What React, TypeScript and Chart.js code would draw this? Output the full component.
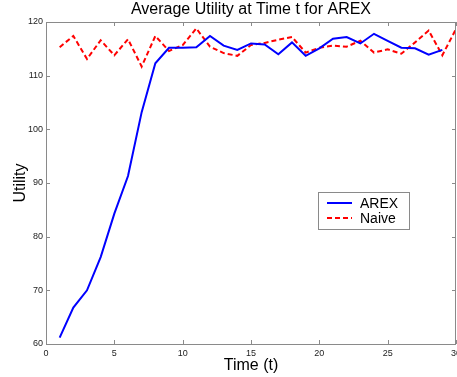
import React, { useEffect, useRef } from "react";
import { Chart, registerables } from "chart.js";

Chart.register(...registerables);

const timeSteps = [1, 2, 3, 4, 5, 6, 7, 8, 9, 10, 11, 12, 13, 14, 15, 16, 17, 18, 19, 20, 21, 22, 23, 24, 25, 26, 27, 28, 29, 30];
const arexValues = [61.2, 66.8, 70.0, 76.2, 84.3, 91.3, 103.2, 112.3, 115.2, 115.2, 115.3, 117.4, 115.6, 114.8, 116.0, 115.8, 114.0, 116.2, 113.7, 115.1, 116.9, 117.2, 116.0, 117.8, 116.5, 115.2, 115.1, 113.9, 114.8, null];
const naiveValues = [115.3, 117.4, 113.1, 116.6, 113.8, 116.8, 111.7, 117.4, 114.6, 115.7, 118.8, 115.4, 114.2, 113.7, 115.7, 116.1, 116.7, 117.2, 114.3, 115.2, 115.6, 115.4, 116.5, 114.3, 114.9, 114.1, 116.2, 118.4, 113.8, 118.7];
const xTicks = [0, 5, 10, 15, 20, 25, 30];
const yTicks = [60, 70, 80, 90, 100, 110, 120];
const titleText = "Average Utility at Time t for AREX";
const seriesLabels = ["AREX", "Naive"];

const FONT = "'Liberation Sans', Arial, Helvetica, sans-serif";

const framePlugin = {
  id: "matlabFrame",
  afterDatasetsDraw(chart: any) {
    const { ctx, chartArea: a, scales } = chart;
    ctx.save();
    ctx.strokeStyle = "#8a8a8a";
    ctx.lineWidth = 1;
    ctx.strokeRect(Math.round(a.left) + 0.5, Math.round(a.top) + 0.5, Math.round(a.right - a.left) - 1, Math.round(a.bottom - a.top) - 0);
    const tl = 4;
    ctx.beginPath();
    xTicks.forEach((v) => {
      const x = Math.round(scales.x.getPixelForValue(v)) + 0.5;
      ctx.moveTo(x, a.bottom);
      ctx.lineTo(x, a.bottom - tl);
      ctx.moveTo(x, a.top);
      ctx.lineTo(x, a.top + tl);
    });
    yTicks.forEach((v) => {
      const y = Math.round(scales.y.getPixelForValue(v)) + 0.5;
      ctx.moveTo(a.left, y);
      ctx.lineTo(a.left + tl, y);
      ctx.moveTo(a.right, y);
      ctx.lineTo(a.right - tl, y);
    });
    ctx.stroke();

    // title
    ctx.fillStyle = "#000";
    ctx.font = `16px ${FONT}`;
    ctx.textAlign = "center";
    ctx.textBaseline = "middle";
    ctx.fillText(titleText, (a.left + a.right) / 2, 10);

    // legend
    const lx = 318, ly = 192, lw = 91, lh = 37;
    ctx.fillStyle = "#fff";
    ctx.fillRect(lx, ly, lw, lh);
    ctx.strokeStyle = "#8a8a8a";
    ctx.strokeRect(lx + 0.5, ly + 0.5, lw, lh);
    ctx.font = `14px ${FONT}`;
    ctx.textAlign = "left";
    chart.data.datasets.forEach((ds: any, i: number) => {
      const yy = ly + 11 + i * 15;
      ctx.strokeStyle = ds.borderColor;
      ctx.lineWidth = 2;
      ctx.setLineDash(ds.borderDash || []);
      ctx.beginPath();
      ctx.moveTo(lx + 9, yy);
      ctx.lineTo(lx + 34, yy);
      ctx.stroke();
      ctx.setLineDash([]);
      ctx.fillStyle = "#000";
      ctx.fillText(ds.label, lx + 42, yy + 1);
    });
    ctx.restore();
  },
};

export default function App() {
  const ref = useRef<HTMLCanvasElement | null>(null);
  useEffect(() => {
    if (!ref.current) return;
    const chart = new Chart(ref.current, {
      type: "line",
      data: {
        labels: timeSteps,
        datasets: [
          {
            label: seriesLabels[0],
            data: timeSteps.map((t, i) => ({ x: t, y: arexValues[i] })),
            borderColor: "#0000ff",
            borderWidth: 2,
            pointRadius: 0,
            tension: 0,
            spanGaps: false,
          },
          {
            label: seriesLabels[1],
            data: timeSteps.map((t, i) => ({ x: t, y: naiveValues[i] })),
            borderColor: "#ff0000",
            borderWidth: 2,
            borderDash: [5, 3],
            pointRadius: 0,
            tension: 0,
          },
        ],
      },
      options: {
        animation: false,
        responsive: false,
        maintainAspectRatio: false,
        layout: { padding: { left: 0, right: 1, top: 22, bottom: 0 } },
        plugins: { legend: { display: false }, tooltip: { enabled: false }, title: { display: false } },
        scales: {
          x: {
            type: "linear",
            min: 0,
            max: 30,
            grid: { display: false, drawTicks: false },
            border: { display: false },
            ticks: {
              stepSize: 5,
              padding: 4,
              maxRotation: 0,
              color: "#222",
              font: { size: 9, family: FONT },
            },
            title: {
              display: true,
              text: "Time (t)",
              color: "#000",
              font: { size: 16, family: FONT },
              padding: { top: 0, bottom: 2 },
            },
            afterFit: (s: any) => {
              s.height = 33;
              s.paddingLeft = 0;
              s.paddingRight = 0;
            },
          },
          y: {
            type: "linear",
            min: 60,
            max: 120,
            grid: { display: false, drawTicks: false },
            border: { display: false },
            ticks: {
              stepSize: 10,
              padding: 3,
              color: "#222",
              font: { size: 9, family: FONT },
            },
            title: {
              display: true,
              text: "Utility",
              color: "#000",
              font: { size: 16, family: FONT },
              padding: { top: 11, bottom: 0 },
            },
            afterFit: (s: any) => {
              s.width = 46;
              s.paddingTop = 0;
              s.paddingBottom = 0;
            },
          },
        },
      },
      plugins: [framePlugin],
    });
    return () => chart.destroy();
  }, []);
  return (
    <div style={{ position: "fixed", left: 0, top: 0, width: 457, height: 377, background: "#fff" }}>
      <canvas ref={ref} width={457} height={377} style={{ width: 457, height: 377 }} />
    </div>
  );
}
